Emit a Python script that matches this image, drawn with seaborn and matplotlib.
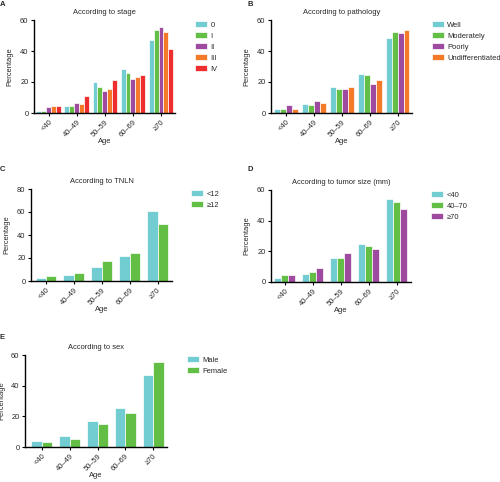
import matplotlib
matplotlib.use("Agg")
import matplotlib.pyplot as plt
import pandas as pd
import seaborn as sns

AGES = ["<40", "40\u201349", "50\u201359", "60\u201369", "\u226570"]

STAGE_LABELS = ["0", "I", "II", "III", "IV"]
STAGE_VALUES = [
    [1.5, 4.8, 20.3, 28.3, 47.3],
    [1.5, 4.3, 16.8, 25.5, 53.8],
    [3.7, 6.5, 14.0, 22.2, 55.5],
    [4.8, 5.8, 15.5, 23.5, 52.5],
    [4.8, 10.8, 21.0, 24.2, 41.5],
]

PATH_LABELS = ["Well", "Moderately", "Poorly", "Undifferentiated"]
PATH_VALUES = [
    [2.6, 5.8, 17.0, 25.0, 48.3],
    [2.6, 5.4, 15.3, 24.2, 52.2],
    [5.4, 8.0, 15.5, 19.0, 51.6],
    [2.6, 6.7, 16.6, 21.0, 53.8],
]

TNLN_LABELS = ["<12", "\u226512"]
TNLN_VALUES = [
    [2.3, 4.9, 12.5, 22.0, 60.6],
    [4.3, 7.2, 17.4, 24.3, 49.9],
]

SIZE_LABELS = ["<40", "40\u201370", "\u226570"]
SIZE_VALUES = [
    [2.6, 5.2, 15.6, 25.1, 53.9],
    [4.3, 6.7, 15.6, 23.4, 52.2],
    [4.8, 9.1, 18.6, 21.6, 47.8],
]

SEX_LABELS = ["Male", "Female"]
SEX_VALUES = [
    [3.9, 7.4, 16.7, 25.3, 47.0],
    [3.2, 5.2, 14.9, 21.9, 55.4],
]

PALETTE = ["#72CDD3", "#63BE45", "#9E4A9E", "#F47A2A", "#EE2E2E"]
FS = 5.4
W, H = 500, 482


def to_long(labels, values):
    rows = []
    for lab, vals in zip(labels, values):
        for age, v in zip(AGES, vals):
            rows.append({"Age": age, "group": lab, "Percentage": v})
    return pd.DataFrame(rows)


def draw_panel(fig, box, title, labels, values, ymax, xlim, width, leg_px, ylab_px=21):
    # box in pixels: left, top, right, bottom
    l, t, r, b = box
    ax = fig.add_axes((l / W, 1 - b / H, (r - l) / W, (b - t) / H))
    df = to_long(labels, values)
    sns.barplot(data=df, x="Age", y="Percentage", hue="group", order=AGES,
                hue_order=labels, palette=PALETTE[:len(labels)], width=width,
                edgecolor="white", linewidth=0.5, saturation=1, ax=ax)
    ax.set_ylim(0, ymax)
    ax.set_yticks(range(0, ymax + 1, 20))
    ax.set_xlim(*xlim)
    ax.set_title(title, fontsize=FS, pad=4.5)
    ax.set_xlabel("Age", fontsize=FS, labelpad=0)
    ax.set_ylabel("Percentage", fontsize=FS)
    ax.yaxis.set_label_coords(-ylab_px / (r - l), 0.5)
    ax.tick_params(axis="both", labelsize=FS, length=2.5, width=0.8, pad=1.5, color="black")
    plt.setp(ax.get_xticklabels(), rotation=45, ha="right", rotation_mode="anchor")
    for s in ["top", "right"]:
        ax.spines[s].set_visible(False)
    for s in ["left", "bottom"]:
        ax.spines[s].set_color("black")
        ax.spines[s].set_linewidth(1.0)
    ax.legend(loc="upper left", bbox_to_anchor=((leg_px - l) / (r - l), 0.99), frameon=False,
              fontsize=FS, handlelength=1.6, handleheight=0.9, handletextpad=0.45,
              labelspacing=0.45, borderpad=0, borderaxespad=0)
    return ax


def letter(fig, x_px, y_px, s):
    fig.text(x_px / W, 1 - y_px / H, s, fontsize=5.5, fontweight="bold", va="top")


def main() -> None:
    sns.set_theme(style="ticks")
    plt.rcParams["font.family"] = ["Liberation Sans", "DejaVu Sans"]

    fig = plt.figure(figsize=(W / 100, H / 100), dpi=100)
    draw_panel(fig, (34, 20, 175, 113), "According to stage",
               STAGE_LABELS, STAGE_VALUES, 60, (-0.52, 4.5), 0.87, 195)
    draw_panel(fig, (271, 20, 412, 113), "According to pathology",
               PATH_LABELS, PATH_VALUES, 60, (-0.53, 4.51), 0.84, 432)
    draw_panel(fig, (31, 189, 172, 281), "According to TNLN",
               TNLN_LABELS, TNLN_VALUES, 80, (-0.54, 4.52), 0.75, 191)
    draw_panel(fig, (271, 190, 411, 282), "According to tumor size (mm)",
               SIZE_LABELS, SIZE_VALUES, 60, (-0.49, 4.51), 0.76, 431)
    draw_panel(fig, (25, 355, 167, 447), "According to sex",
               SEX_LABELS, SEX_VALUES, 60, (-0.6, 4.49), 0.76, 187, ylab_px=19.5)

    letter(fig, 0, 0.5, "A")
    letter(fig, 248, 0.5, "B")
    letter(fig, 0, 166, "C")
    letter(fig, 248, 166, "D")
    letter(fig, 0, 334, "E")

    fig.savefig("out.png", dpi=100)
    plt.close(fig)


if __name__ == "__main__":
    main()
